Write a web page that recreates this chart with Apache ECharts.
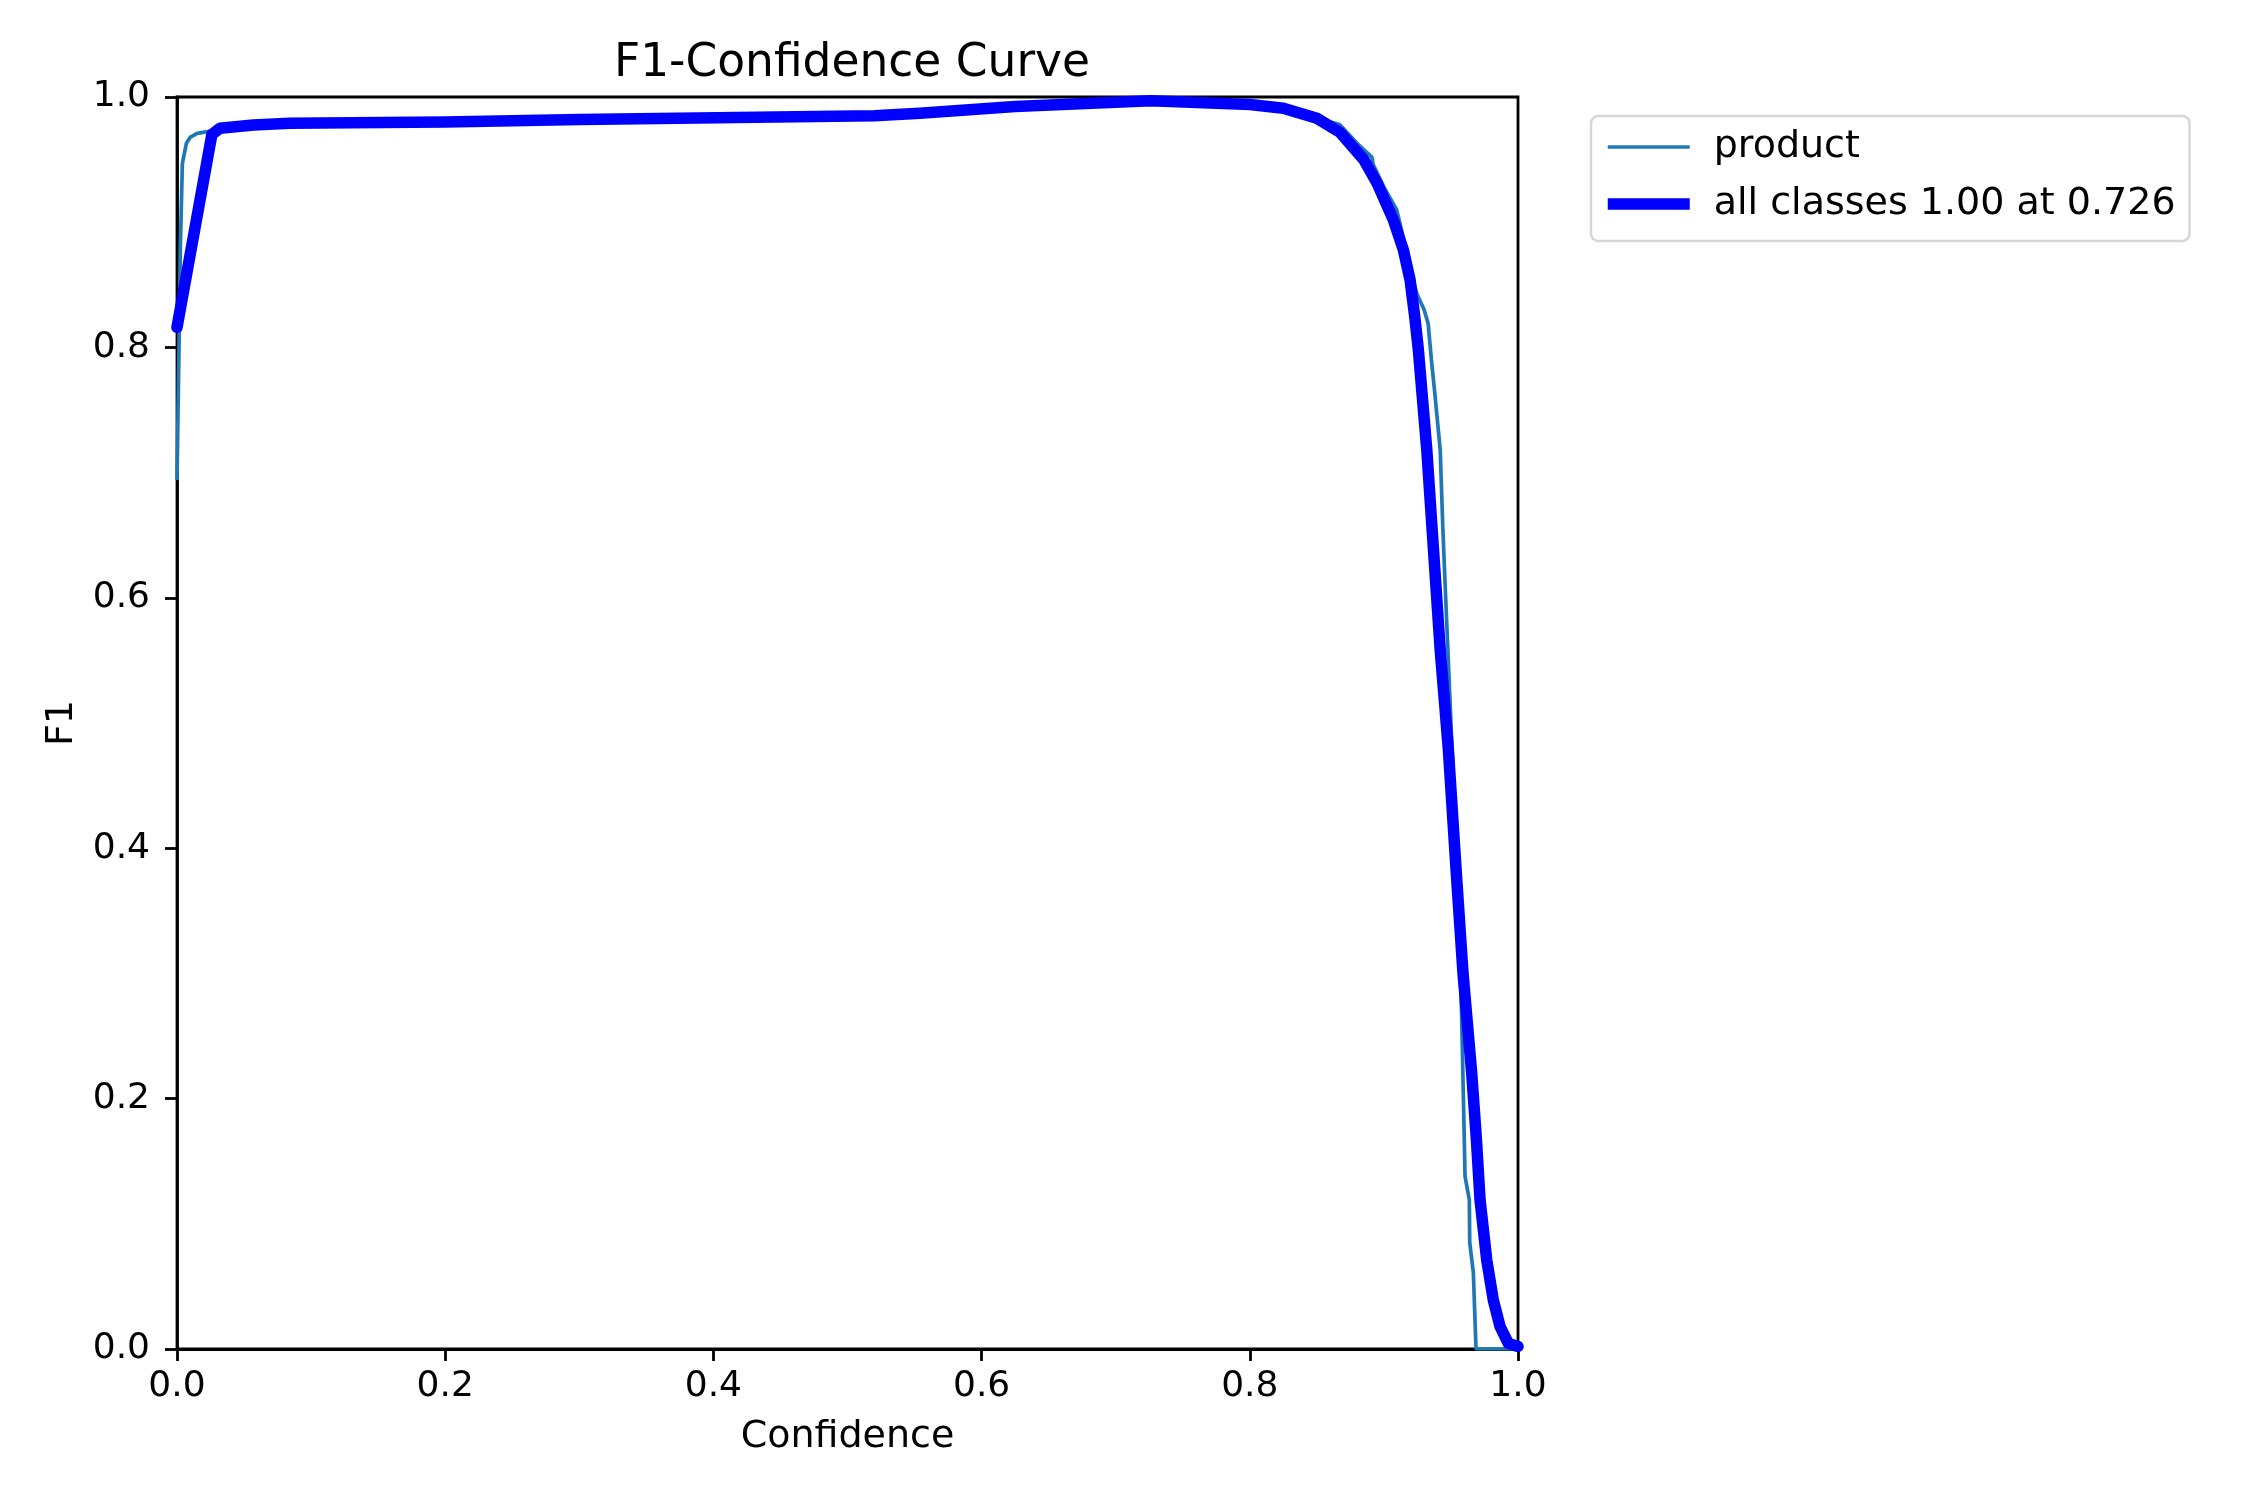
<!DOCTYPE html>
<html>
<head>
<meta charset="utf-8">
<script src="https://cdn.jsdelivr.net/npm/echarts@6/dist/echarts.min.js"></script>
<style>
  html, body { margin: 0; padding: 0; background: #fff; }
  #chart { width: 2250px; height: 1500px; }
</style>
</head>
<body>
<div id="chart"></div>
<script>
// values
var axisTicks = [0, 0.2, 0.4, 0.6, 0.8, 1.0];

var productConf = [0.000, 0.0015, 0.0025, 0.004, 0.007, 0.010, 0.015, 0.026, 0.040, 0.060, 0.100,
  0.300, 0.520, 0.556, 0.625, 0.726, 0.800, 0.825, 0.850, 0.867, 0.880, 0.891, 0.892, 0.900,
  0.9095, 0.912, 0.918, 0.9245, 0.930, 0.933, 0.9357, 0.938, 0.942, 0.944, 0.9456, 0.950,
  0.955, 0.958, 0.9595, 0.9605, 0.9637, 0.964, 0.9667, 0.9687, 1.000];
var productF1 = [0.694, 0.800, 0.880, 0.947, 0.963, 0.968, 0.971, 0.973, 0.976, 0.978, 0.979,
  0.982, 0.985, 0.987, 0.9925, 0.997, 0.994, 0.991, 0.983, 0.978, 0.963, 0.952, 0.946, 0.928,
  0.910, 0.899, 0.870, 0.843, 0.830, 0.819, 0.787, 0.763, 0.718, 0.654, 0.612, 0.500,
  0.370, 0.265, 0.190, 0.138, 0.119, 0.085, 0.061, 0.000, 0.000];

var allConf = [0.000, 0.026, 0.032, 0.057, 0.084, 0.200, 0.300, 0.520, 0.554, 0.625, 0.726,
  0.800, 0.825, 0.850, 0.867, 0.885, 0.895, 0.907, 0.9145, 0.9195, 0.923, 0.9257, 0.932,
  0.937, 0.942, 0.948, 0.954, 0.959, 0.9655, 0.969, 0.9717, 0.9767, 0.9816, 0.9866,
  0.9928, 1.000];
var allF1 = [0.816, 0.970, 0.975, 0.9776, 0.979, 0.980, 0.982, 0.985, 0.987, 0.9925, 0.997,
  0.994, 0.991, 0.983, 0.972, 0.950, 0.931, 0.902, 0.878, 0.854, 0.8245, 0.798, 0.718,
  0.638, 0.558, 0.480, 0.380, 0.300, 0.220, 0.167, 0.119, 0.071, 0.039, 0.018,
  0.0045, 0.002];

var seriesNames = ['product', 'all classes 1.00 at 0.726'];

function pairs(xs, ys) {
  return xs.map(function (x, i) { return [x, ys[i]]; });
}

var font = 'DejaVu Sans';
var chart = echarts.init(document.getElementById('chart'), null, { renderer: 'canvas' });

var axisCommon = {
  type: 'value',
  min: 0,
  max: 1,
  interval: 0.2,
  nameLocation: 'middle',
  nameTextStyle: { fontFamily: font, fontSize: 38, color: '#000' },
  axisLine: { show: true, lineStyle: { color: '#000', width: 2.8 } },
  axisTick: { show: true, inside: false, length: 12, lineStyle: { color: '#000', width: 2.8 } },
  axisLabel: {
    fontFamily: font, fontSize: 36, color: '#000',
    formatter: function (v) { return v.toFixed(1); }
  },
  splitLine: { show: false }
};

var option = {
  backgroundColor: '#ffffff',
  animation: false,
  title: {
    text: 'F1-Confidence Curve',
    left: 847,
    top: 36,
    textAlign: 'center',
    textStyle: { fontFamily: font, fontSize: 45.5, fontWeight: 'normal', color: '#000' }
  },
  grid: {
    left: 177, right: 732, top: 97, bottom: 151,
    show: true, borderColor: '#000', borderWidth: 2.8
  },
  xAxis: Object.assign({}, axisCommon, {
    name: 'Confidence',
    nameGap: 69,
    axisLabel: Object.assign({}, axisCommon.axisLabel, { margin: 20 })
  }),
  yAxis: Object.assign({}, axisCommon, {
    name: 'F1',
    nameGap: 96,
    axisLabel: Object.assign({}, axisCommon.axisLabel, { margin: 27 })
  }),
  legend: {
    left: 1591,
    top: 116,
    orient: 'vertical',
    itemWidth: 82,
    itemHeight: 36,
    itemGap: 19,
    padding: [12, 14, 18, 11],
    borderColor: '#d6d6d6',
    borderWidth: 2.5,
    borderRadius: 7,
    backgroundColor: '#fff',
    itemStyle: { opacity: 0 },
    lineStyle: { width: 'inherit', cap: 'butt' },
    textStyle: { fontFamily: font, fontSize: 38, color: '#000', padding: [0, 0, 0, 19] },
    data: seriesNames
  },
  series: [{
    name: seriesNames[0],
    type: 'line',
    data: pairs(productConf, productF1),
    showSymbol: false,
    symbol: 'none',
    color: '#1f77b4',
    lineStyle: { color: '#1f77b4', width: 3.7 },
    z: 2
  }, {
    name: seriesNames[1],
    type: 'line',
    data: pairs(allConf, allF1),
    showSymbol: false,
    symbol: 'none',
    color: '#0000ff',
    lineStyle: { color: '#0000ff', width: 11.5, join: 'round', cap: 'round' },
    z: 3
  }]
};

chart.setOption(option);
</script>
</body>
</html>
